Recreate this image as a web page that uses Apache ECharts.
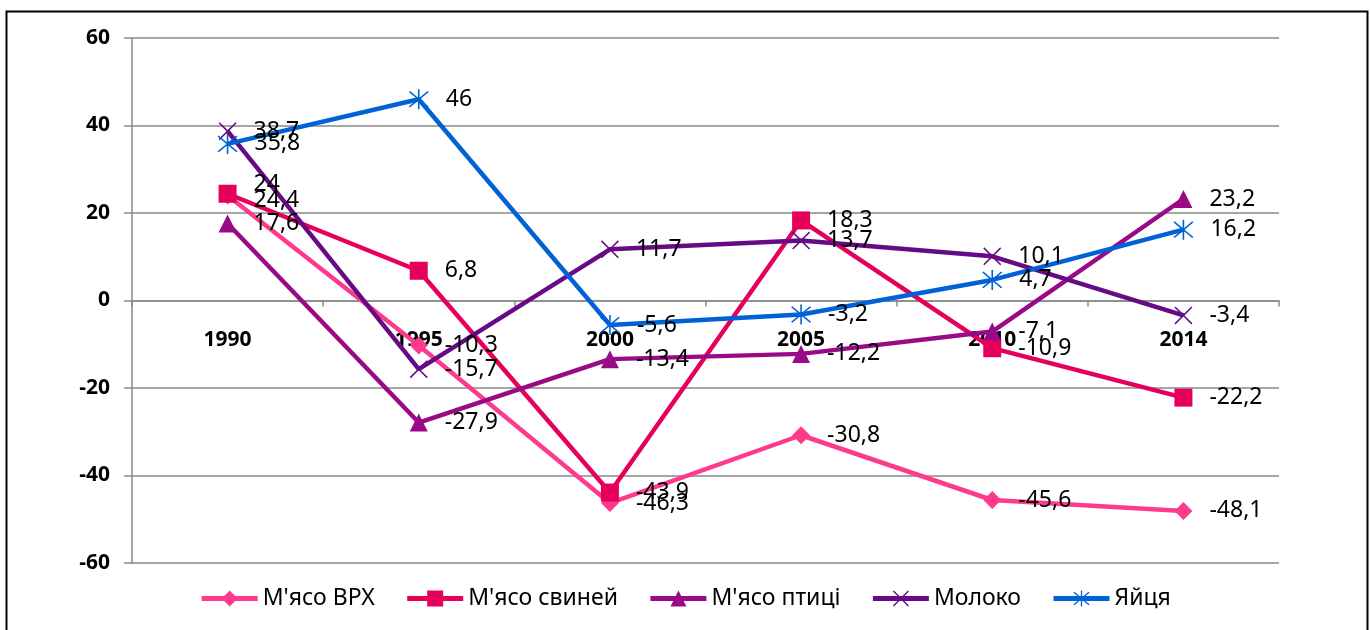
<!DOCTYPE html>
<html>
<head>
<meta charset="utf-8">
<script src="https://cdn.jsdelivr.net/npm/echarts@6/dist/echarts.min.js"></script>
<style>
html,body{margin:0;padding:0;background:#fff;}
#c{width:1370px;height:630px;}
</style>
</head>
<body>
<div id="c"></div>
<script>
const categories = ['1990','1995','2000','2005','2010','2014'];
const seriesNames = ["М'ясо ВРХ", "М'ясо свиней", "М'ясо птиці", "Молоко", "Яйця"];
const beef    = [24, -10.3, -46.3, -30.8, -45.6, -48.1];
const pork    = [24.4, 6.8, -43.9, 18.3, -10.9, -22.2];
const poultry = [17.6, -27.9, -13.4, -12.2, -7.1, 23.2];
const milk    = [38.7, -15.7, 11.7, 13.7, 10.1, -3.4];
const eggs    = [35.8, 46, -5.6, -3.2, 4.7, 16.2];
const yTicks  = [-60, -40, -20, 0, 20, 40, 60];

const colors = ['#FF3A8C', '#E6005C', '#990A86', '#660A86', '#0062D6'];
const xPath = 'path://M0,1.2 L1.2,0 L10,8.8 L18.8,0 L20,1.2 L11.2,10 L20,18.8 L18.8,20 L10,11.2 L1.2,20 L0,18.8 L8.8,10 Z';
const starPath = 'path://M0,1.2 L1.2,0 L10,8.8 L18.8,0 L20,1.2 L11.2,10 L20,18.8 L18.8,20 L10,11.2 L1.2,20 L0,18.8 L8.8,10 Z M9.2,-2 L10.8,-2 L10.8,22 L9.2,22 Z';
const symbols = ['diamond', 'rect', 'triangle', xPath, starPath];
const symbolSizes = [18, 18, 18, 18, 20];
const dataSets = [beef, pork, poultry, milk, eggs];
// label nudges (series index -> point index -> [dx, dy]) to mimic the reference's label placement
const labelNudges = {0: {0: [0, -11]}, 1: {0: [0, 7]}};

const fmt = v => String(v).replace('.', ',');

const gridTop = 38, gridBottom = 67, H = 630;
const plotH = H - gridTop - gridBottom;
const yMin = yTicks[0], yMax = yTicks[yTicks.length-1];
// move the category axis up to the zero line
const xAxisOffset = -plotH * (0 - yMin) / (yMax - yMin);

const chart = echarts.init(document.getElementById('c'));
chart.setOption({
  animation: false,
  backgroundColor: '#fff',
  graphic: [{
    type: 'rect', left: 4, top: 9, z: 100, silent: true,
    shape: {width: 1361, height: 640},
    style: {fill: 'none', stroke: '#000', lineWidth: 2}
  }],
  grid: {left: 132, right: 91, top: gridTop, bottom: gridBottom},
  legend: {
    top: 582, left: 'center',
    itemWidth: 56, itemHeight: 20, itemGap: 30,
    lineStyle: {width: 5},
    textStyle: {fontFamily: 'Noto Sans', fontSize: 23, color: '#000'},
    data: seriesNames
  },
  xAxis: {
    type: 'category', data: categories, boundaryGap: true,
    offset: xAxisOffset,
    axisLine: {onZero: false, lineStyle: {color: '#898989', width: 1.5}},
    axisTick: {show: true, length: 6, lineStyle: {color: '#898989', width: 1.5}},
    axisLabel: {margin: 29, fontFamily: 'Noto Sans', fontWeight: 'bold', fontSize: 21, color: '#000'}
  },
  yAxis: {
    type: 'value', min: yMin, max: yMax, interval: 20,
    axisLine: {show: true, lineStyle: {color: '#898989', width: 1.5}},
    axisTick: {show: true, length: 8, lineStyle: {color: '#898989', width: 1.5}},
    splitLine: {lineStyle: {color: '#898989', width: 1.5}},
    axisLabel: {margin: 22, fontFamily: 'Noto Sans', fontWeight: 'bold', fontSize: 21, color: '#000'}
  },
  series: dataSets.map((d, i) => ({
    name: seriesNames[i],
    type: 'line',
    data: d.map((v, j) => {
      const n = labelNudges[i] && labelNudges[i][j];
      return n ? {value: v, label: {offset: n}} : v;
    }),
    symbol: symbols[i],
    symbolSize: symbolSizes[i],
    showAllSymbol: true,
    lineStyle: {color: colors[i], width: 4.5},
    itemStyle: {color: colors[i]},
    label: {
      show: true, position: 'right', distance: 17,
      formatter: p => fmt(p.value),
      fontFamily: 'Noto Sans', fontSize: 23, color: '#000'
    }
  }))
});
</script>
</body>
</html>
